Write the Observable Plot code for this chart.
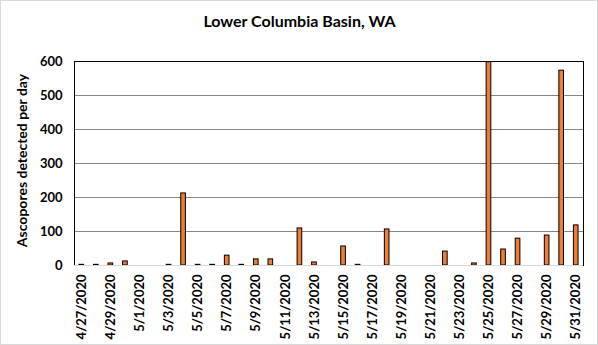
<!DOCTYPE html>
<html>
<head>
<meta charset="utf-8">
<script src="https://cdn.jsdelivr.net/npm/d3@7"></script>
<script src="https://cdn.jsdelivr.net/npm/@observablehq/plot@0.6"></script>
<style>
  html, body { margin: 0; padding: 0; background: #fff; }
  #chart svg { display: block; outline: 1px solid #d9d9d9; outline-offset: -1px; }
</style>
</head>
<body>
<div id="chart"></div>
<script>
const title = "Lower Columbia Basin, WA";
const yTitle = "Ascopores detected per day";

const dates = [
  "4/27/2020", "4/28/2020", "4/29/2020", "4/30/2020",
  "5/1/2020", "5/2/2020", "5/3/2020", "5/4/2020", "5/5/2020", "5/6/2020", "5/7/2020",
  "5/8/2020", "5/9/2020", "5/10/2020", "5/11/2020", "5/12/2020", "5/13/2020", "5/14/2020",
  "5/15/2020", "5/16/2020", "5/17/2020", "5/18/2020", "5/19/2020", "5/20/2020", "5/21/2020",
  "5/22/2020", "5/23/2020", "5/24/2020", "5/25/2020", "5/26/2020", "5/27/2020", "5/28/2020",
  "5/29/2020", "5/30/2020", "5/31/2020"
];

const counts = [
  2, 2, 6, 12,
  0, 0, 2, 212, 2, 2, 29,
  2, 18, 18, 0, 109, 9, 0,
  56, 2, 0, 106, 0, 0, 0,
  41, 0, 6, 598, 47, 79, 0,
  88, 573, 118
];

const xTickLabels = [
  "4/27/2020", "4/29/2020", "5/1/2020", "5/3/2020", "5/5/2020", "5/7/2020",
  "5/9/2020", "5/11/2020", "5/13/2020", "5/15/2020", "5/17/2020", "5/19/2020",
  "5/21/2020", "5/23/2020", "5/25/2020", "5/27/2020", "5/29/2020", "5/31/2020"
];

const yTicks = [0, 100, 200, 300, 400, 500, 600];

const data = dates.map((d, i) => ({date: d, count: counts[i]}));

const chart = Plot.plot({
  width: 598,
  height: 345,
  marginTop: 61,
  marginLeft: 74,
  marginRight: 15,
  marginBottom: 80,
  style: {fontFamily: "Lato, 'Open Sans', sans-serif", fontWeight: "bold", color: "#000", background: "#fff"},
  x: {type: "band", domain: dates, paddingInner: 0.68, paddingOuter: 0.34, align: 0.5, round: false},
  y: {domain: [0, 600]},
  marks: [
    Plot.gridY(yTicks, {stroke: "#868686", strokeOpacity: 1}),
    Plot.barY(data, {x: "date", y: "count", fill: "#ED7D31", stroke: "#000", strokeWidth: 1}),
    Plot.frame({stroke: "#000"}),
    Plot.ruleY([0], {stroke: "#d9d9d9"}),
    Plot.axisY(yTicks, {tickSize: 0, tickPadding: 12, fontSize: 13, fontWeight: "bold", label: null}),
    Plot.axisX(xTickLabels, {tickSize: 0, tickPadding: 9, tickRotate: -90, fontSize: 13, fontWeight: "bold", label: null}),
    Plot.text([yTitle], {frameAnchor: "left", dx: -52, dy: -3, rotate: -90, fontSize: 14, fontWeight: "bold", textAnchor: "middle", lineAnchor: "middle"}),
    Plot.text([title], {frameAnchor: "top", dy: -40, dx: -29.5, fontSize: 16, fontWeight: "bold", textAnchor: "middle", lineAnchor: "middle"})
  ]
});

document.getElementById("chart").append(chart);
</script>
</body>
</html>
